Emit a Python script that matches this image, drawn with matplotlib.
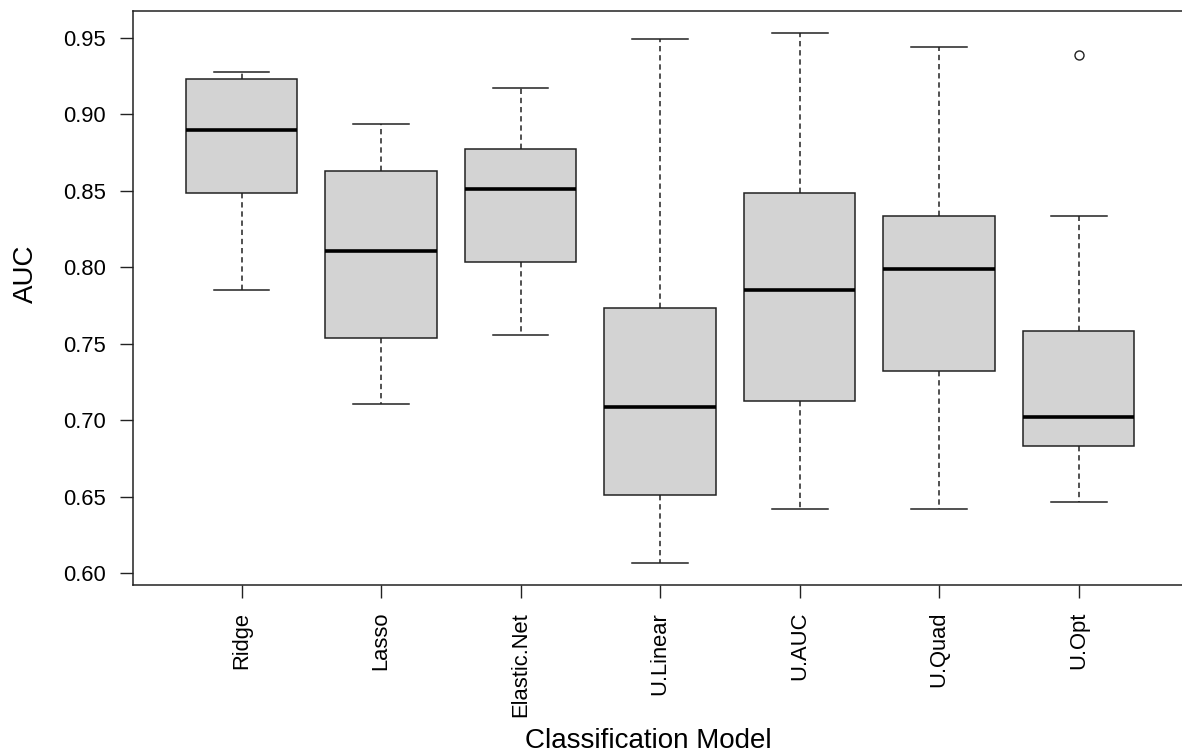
import matplotlib.pyplot as plt

plt.rcParams['font.family'] = ['Liberation Sans', 'DejaVu Sans']

# box statistics
models = ['Ridge', 'Lasso', 'Elastic.Net', 'U.Linear', 'U.AUC', 'U.Quad', 'U.Opt']
whislo = [0.785, 0.711, 0.756, 0.6065, 0.642, 0.642, 0.6465]
q1 = [0.8485, 0.754, 0.8035, 0.6515, 0.7125, 0.732, 0.6835]
med = [0.8895, 0.8105, 0.8515, 0.709, 0.785, 0.799, 0.702]
q3 = [0.923, 0.863, 0.877, 0.7735, 0.8488, 0.8335, 0.7585]
whishi = [0.9275, 0.8935, 0.917, 0.9495, 0.953, 0.944, 0.8335]
fliers = [[], [], [], [], [], [], [0.9387]]
yticks = [0.60, 0.65, 0.70, 0.75, 0.80, 0.85, 0.90, 0.95]

W, H = 1182, 755
fig = plt.figure(figsize=(W / 100, H / 100), dpi=100)
# plot region in pixels: left 132.7, top 11, bottom 585, one unit = 139.52 px
ax = fig.add_axes([132.7 / W, (H - 585) / H, 1054.8 / W, 574 / H])

stats = []
for i in range(len(models)):
    stats.append(dict(label=models[i], whislo=whislo[i], q1=q1[i], med=med[i],
                      q3=q3[i], whishi=whishi[i], fliers=fliers[i]))

ax.bxp(stats, positions=range(1, 8), widths=0.8, patch_artist=True,
       boxprops=dict(facecolor='#D3D3D3', edgecolor='#222222', linewidth=1.1),
       medianprops=dict(color='black', linewidth=2.6, solid_capstyle='butt'),
       whiskerprops=dict(color='#222222', linewidth=1.1, linestyle=(0, (3.5, 2.5))),
       capprops=dict(color='#222222', linewidth=1.1),
       capwidths=0.4,
       flierprops=dict(marker='o', markerfacecolor='none', markeredgecolor='#222222',
                       markersize=6.5, markeredgewidth=1.0))

ax.set_xlim(0.22, 7.78)
ax.set_ylim(0.5924, 0.9675)
ax.set_yticks(yticks)
ax.set_yticklabels(['%.2f' % v for v in yticks])
ax.set_xticks(range(1, 8))
ax.set_xticklabels(models, rotation=90)
ax.tick_params(axis='both', length=9.4, width=1.0, color='#222222',
               labelsize=15.8, pad=10)
for s in ax.spines.values():
    s.set_linewidth(1.1)
    s.set_color('#222222')

fig.text(26 / W, 1 - 274 / H, 'AUC', rotation=90, ha='center', va='center', fontsize=20)
fig.text(648 / W, 1 - 748 / H, 'Classification Model', ha='center', va='baseline', fontsize=20)

fig.savefig('out.png', dpi=100)
